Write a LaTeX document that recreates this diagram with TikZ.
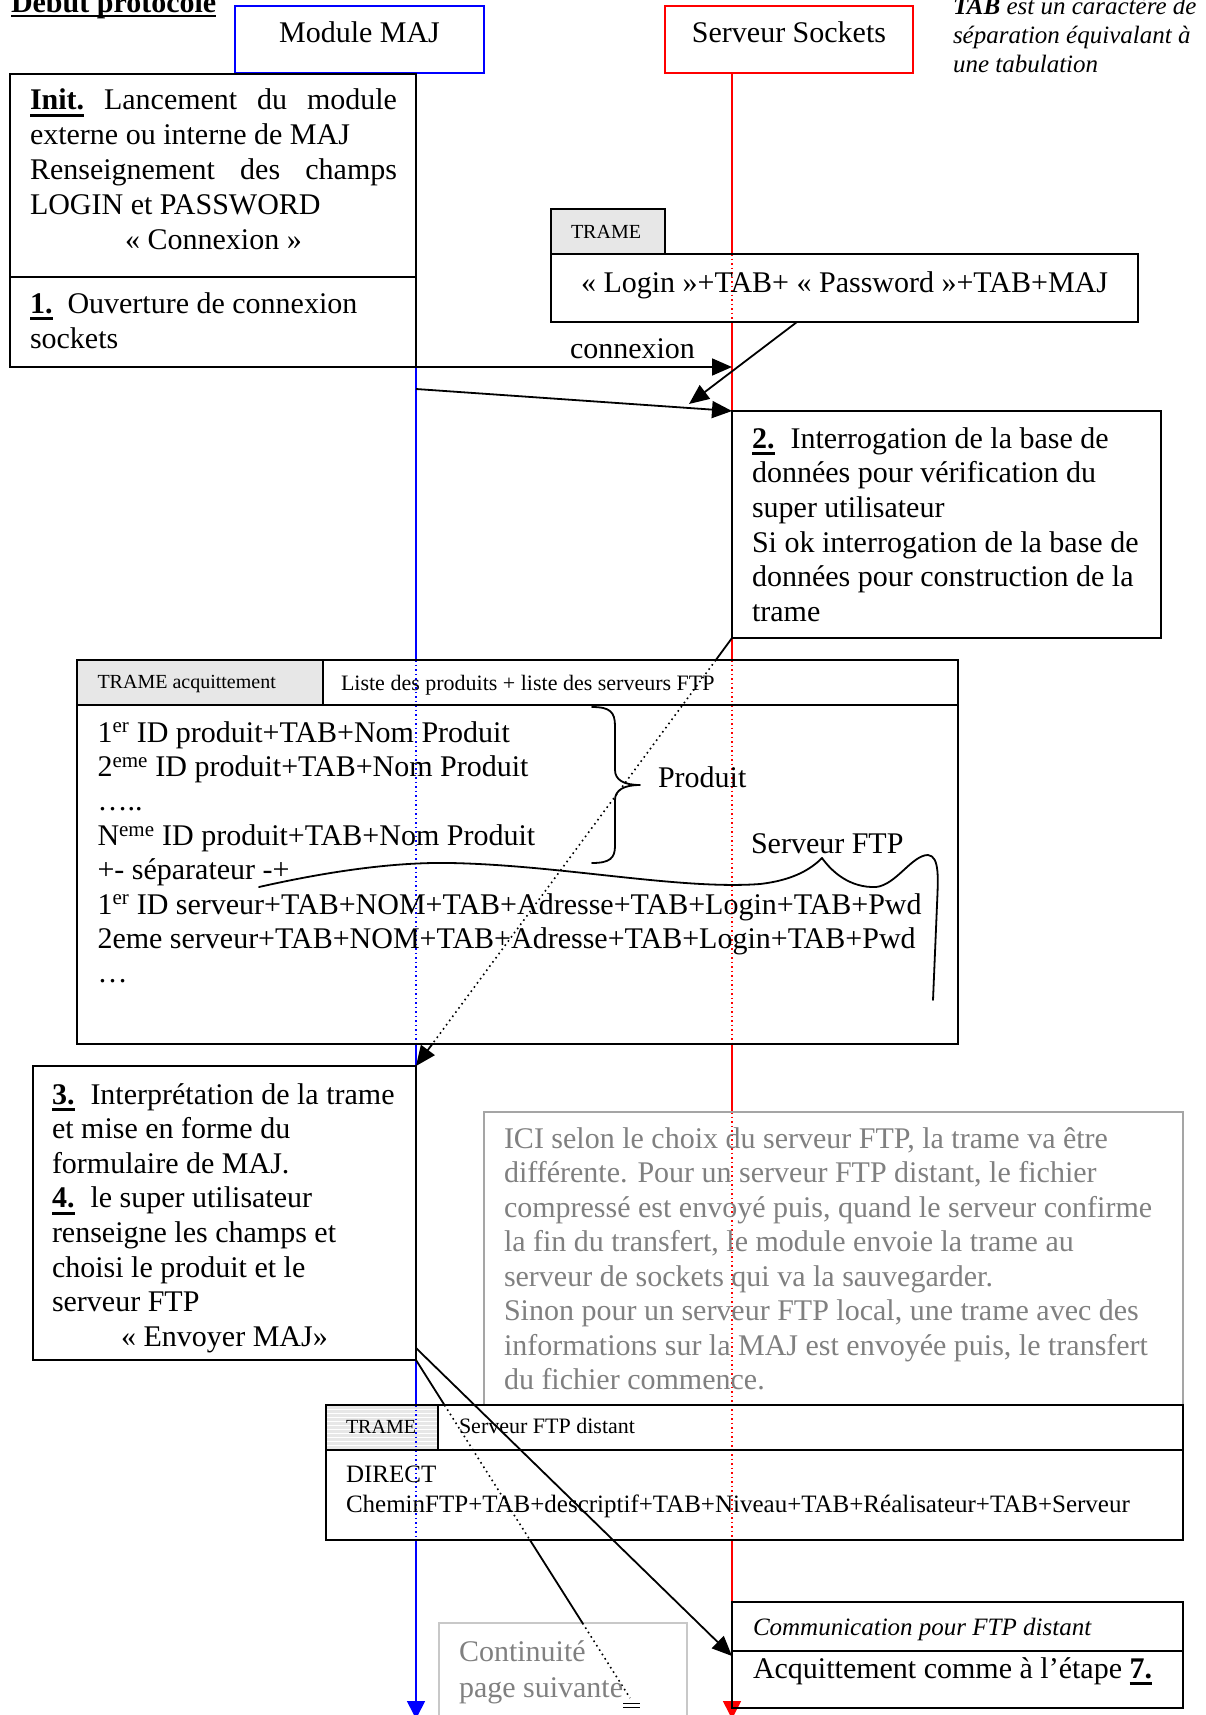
\documentclass[tikz,border=0pt]{standalone}
\usepackage{fontspec}
\setmainfont{Liberation Serif}
\usetikzlibrary{arrows.meta,calc}
\pgfdeclarelayer{bg}
\pgfsetlayers{bg,main}

\definecolor{txtgrey}{RGB}{128,128,128}
\definecolor{boxgrey}{RGB}{165,165,165}
\definecolor{contgrey}{RGB}{200,200,200}
\definecolor{cellgrey}{RGB}{231,231,231}

% underlined text with a rule at a given depth and thickness
\newcommand\ulrule[3]{\setbox0\hbox{#1}\rlap{\rule[#2]{\wd0}{#3}}\box0}
\newcommand\ulbold[1]{\ulrule{\textbf{#1}}{-7pt}{2.8pt}}
% stacked lines of text, baseline of the whole block = first line
\newcommand\textlines[2]{\vtop{\hsize=#1\relax#2}}
\newcommand\jline[1]{\hbox to\hsize{#1}}
\newcommand\pline[1]{\hbox{#1}}
\newcommand\centline[1]{\hbox to\hsize{\hfil#1\hfil}}

\tikzset{
  rect/.style={rectangle, inner sep=0pt, outer sep=0pt, anchor=north west, line width=2pt},
  txt/.style={inner sep=0pt, outer sep=0pt, anchor=base west, font=\fontsize{30}{34.6}\selectfont},
  smalltxt/.style={txt, font=\fontsize{20}{24}\selectfont},
  midtxt/.style={txt, font=\fontsize{22}{26}\selectfont},
  notetxt/.style={txt, font=\fontsize{25}{30}\selectfont},
  msg/.style={line width=1.8pt, -{Triangle[length=20pt,width=17pt]}},
  conn/.style={line width=1.8pt},
  dotconn/.style={line width=1.6pt, dash pattern=on 1.6pt off 3.6pt},
  lifeblue/.style={draw=blue, line width=1.5pt},
  lifered/.style={draw=red, line width=1.5pt},
  lifedots/.style={dash pattern=on 1.5pt off 3pt},
  lifeend/.style={-{Triangle[length=18pt,width=18pt]}},
  bracepath/.style={line width=1.8pt, line cap=round, line join=round},
}

\begin{document}
\begin{tikzpicture}[x=1pt,y=-1pt]
\useasboundingbox (0,0) rectangle (1205,1715);
\clip (0,0) rectangle (1205,1715);

% ---------- lifeline axes ----------
\coordinate (bl) at (416,0);
\coordinate (rl) at (732,0);
\coordinate (blend) at (416,1719);
\coordinate (rlend) at (732,1719);

% ---------- boxes ----------
\node[rect, draw=blue, line width=1.8pt, minimum width=249pt, minimum height=67pt] (modmaj) at (235,6) {};
\node[rect, draw=red, line width=1.8pt, minimum width=248pt, minimum height=67pt] (srvsock) at (665,6) {};
\node[rect, draw, minimum width=406pt, minimum height=203pt] (init) at (10,74) {};
\node[rect, draw, minimum width=406pt, minimum height=90pt] (step1) at (10,277) {};
\node[rect, draw, minimum width=114pt, minimum height=45pt] (trametab) at (551,209) {};
\node[rect, draw, minimum width=587pt, minimum height=68pt] (login) at (551,254) {};
\node[rect, draw, minimum width=429pt, minimum height=227pt] (step2) at (732,411) {};
\node[rect, draw, minimum width=246pt, minimum height=45pt] (acqhead1) at (77,660) {};
\node[rect, draw, minimum width=635pt, minimum height=45pt] (acqhead2) at (323,660) {};
\node[rect, draw, minimum width=881pt, minimum height=339pt] (acqbody) at (77,705) {};
\node[rect, draw, minimum width=383pt, minimum height=294pt] (step34) at (33,1066) {};
\node[rect, draw=boxgrey, minimum width=699pt, minimum height=293pt] (ici) at (484,1112) {};
\node[rect, draw, minimum width=112pt, minimum height=45pt] (disthead1) at (326,1405) {};
\node[rect, draw, minimum width=745pt, minimum height=45pt] (disthead2) at (438,1405) {};
\node[rect, draw, minimum width=857pt, minimum height=90pt] (distbody) at (326,1450) {};
\node[rect, draw=contgrey, minimum width=248pt, minimum height=102pt] (cont) at (439,1623) {};
\node[rect, draw, minimum width=451pt, minimum height=49pt] (comm) at (732,1602) {};
\node[rect, draw, minimum width=451pt, minimum height=57pt] (ack) at (732,1651) {};

% ---------- cell shading and lifelines, behind the boxes ----------
\begin{pgfonlayer}{bg}
  \clip (0,0) rectangle (1205,1715);
  \fill[cellgrey] (trametab.north west) rectangle (trametab.south east);
  \fill[cellgrey] (acqhead1.north west) rectangle (acqhead1.south east);
  \fill[cellgrey] (disthead1.north west) rectangle (disthead1.south east);
  \foreach \k in {1,...,10}
    \draw[white, line width=0.9pt] ($(disthead1.north west)+(0,4*\k)$) -- ($(disthead1.north east)+(0,4*\k)$);

  % Module MAJ lifeline
  \draw[lifeblue] (bl |- modmaj.south) -- (bl |- acqhead1.north);
  \draw[lifeblue, lifedots] (bl |- acqhead1.north) -- (bl |- acqbody.south);
  \draw[lifeblue] (bl |- acqbody.south) -- (bl |- disthead1.north);
  \draw[lifeblue, lifedots] (bl |- disthead1.north) -- (bl |- distbody.south);
  \draw[lifeblue, lifeend, fill=blue] (bl |- distbody.south) -- (blend);

  % Serveur Sockets lifeline
  \draw[lifered] (rl |- srvsock.south) -- (rl |- login.north);
  \draw[lifered, lifedots] (rl |- login.north) -- (rl |- login.south);
  \draw[lifered] (rl |- login.south) -- (rl |- acqhead2.north);
  \draw[lifered, lifedots] (rl |- acqhead2.north) -- (rl |- acqbody.south);
  \draw[lifered] (rl |- acqbody.south) -- (rl |- ici.north);
  \draw[lifered, lifedots] (rl |- ici.north) -- (rl |- distbody.south);
  \draw[lifered, lifeend, fill=red] (rl |- distbody.south) -- (rlend);
\end{pgfonlayer}

% ---------- messages ----------
\draw[msg] (step1.south east) -- (step1.south east -| rl);
\coordinate (m2start) at (416,389);
\draw[msg] (m2start) -- (step2.north west);
\coordinate (loginTip) at (689,404);
\draw[msg] ($(login.south west)!0.419!(login.south east)$) -- (loginTip);

% step 2 -> step 3 (dotted while crossing the acknowledgement frame)
\coordinate (p1) at (intersection of step2.south west--step34.north east and acqhead1.north west--acqhead2.north east);
\coordinate (p2) at (intersection of step2.south west--step34.north east and acqbody.south west--acqbody.south east);
\draw[conn] (step2.south west) -- (p1);
\draw[dotconn] (p1) -- (p2);
\draw[msg] (p2) -- (step34.north east);

% step 4 -> acknowledgement for distant FTP
\draw[msg] ($(step34.south east)+(0,-12)$) -- ($(ack.north west)+(0,5)$);

% step 4 -> next page
\coordinate (contEnd) at (630,1698);
\coordinate (q1) at (intersection of step34.south east--contEnd and disthead1.north west--disthead2.north east);
\coordinate (q2) at (intersection of step34.south east--contEnd and distbody.south west--distbody.south east);
\coordinate (q3) at (intersection of step34.south east--contEnd and cont.north west--cont.north east);
\draw[conn] (step34.south east) -- (q1);
\draw[dotconn] (q1) -- (q2);
\draw[conn] (q2) -- (q3);
\draw[dotconn] (q3) -- (contEnd);
\draw[line width=1pt] ($(contEnd)+(-7,5)$) -- ($(contEnd)+(10,5)$);
\draw[line width=1pt] ($(contEnd)+(-7,9)$) -- ($(contEnd)+(10,9)$);

% ---------- braces ----------
\draw[bracepath] (592,707) .. controls (610,707) and (615,712) .. (615,726)
  -- (615,770) .. controls (615,780) and (624,785) .. (640,785)
  .. controls (624,785) and (615,790) .. (615,800)
  -- (615,846) .. controls (615,858) and (610,863) .. (592,863);
\draw[bracepath] (259,887) .. controls (330,871) and (395,862) .. (450,863)
  .. controls (560,865) and (680,890) .. (760,884)
  .. controls (795,880) and (812,868) .. (822,858)
  .. controls (832,872) and (850,888) .. (876,887)
  .. controls (896,885) and (912,855) .. (928,855)
  .. controls (940,856) and (938,880) .. (937,905)
  -- (933,1000);

% ---------- texts ----------
\node[txt] (title) at (11,12.7) {\ulrule{\textbf{Début protocole}}{-4.6pt}{2.4pt}};
\node[txt, anchor=base] (modmajT) at (359.5,43) {Module MAJ};
\node[txt, anchor=base] (srvsockT) at (789,43) {Serveur Sockets};
\node[notetxt, font=\fontsize{25}{28.8}\selectfont\itshape] (noteT) at (953,14.5)
  {\textlines{250pt}{\pline{\textbf{TAB} est un caractère de}\pline{séparation équivalant à}\pline{une tabulation}}};

\node[txt, font=\fontsize{30}{35}\selectfont] (initT) at (30,110) {\textlines{367pt}{%
  \jline{\ulbold{Init.}\hfill Lancement\hfill du\hfill module}%
  \pline{externe ou interne de MAJ}%
  \jline{Renseignement\hfill des\hfill champs}%
  \pline{LOGIN et PASSWORD}%
  \centline{« Connexion »}}};
\node[txt, font=\fontsize{30}{35}\selectfont] (step1T) at (30,313) {\textlines{367pt}{%
  \pline{\ulbold{1.}\hspace{15pt}Ouverture de connexion}%
  \pline{sockets}}};

\node[smalltxt] (trameT) at (571,238) {TRAME};
\node[txt] (loginT) at (581,292) {« Login »+TAB+ « Password »+TAB+MAJ};
\node[txt] (connT) at (570,358) {connexion};

\node[txt, font=\fontsize{30}{34.7}\selectfont] (step2T) at (752,448) {\textlines{400pt}{%
  \pline{\ulbold{2.}\hspace{16pt}Interrogation de la base de}%
  \pline{données pour vérification du}%
  \pline{super utilisateur}%
  \pline{Si ok interrogation de la base de}%
  \pline{données pour construction de la}%
  \pline{trame}}};

\node[smalltxt] (acqhead1T) at (97.5,688) {TRAME acquittement};
\node[midtxt] (acqhead2T) at (341,690) {Liste des produits + liste des serveurs FTP};
\node[txt, font=\fontsize{30}{34.4}\selectfont] (acqbodyT) at (97.5,742) {\textlines{850pt}{%
  \pline{1\textsuperscript{er} ID produit+TAB+Nom Produit}%
  \pline{2\textsuperscript{eme} ID produit+TAB+Nom Produit}%
  \pline{…..}%
  \pline{N\textsuperscript{eme} ID produit+TAB+Nom Produit}%
  \pline{+- séparateur -+}%
  \pline{1\textsuperscript{er} ID serveur+TAB+NOM+TAB+Adresse+TAB+Login+TAB+Pwd}%
  \pline{2eme serveur+TAB+NOM+TAB+Adresse+TAB+Login+TAB+Pwd}%
  \pline{…}}};
\node[txt] (produitT) at (658,787) {Produit};
\node[txt] (ftpT) at (751,853) {Serveur FTP};

\node[txt, font=\fontsize{30}{34.6}\selectfont] (step34T) at (52,1104) {\textlines{345pt}{%
  \pline{\ulbold{3.}\hspace{16pt}Interprétation de la trame}%
  \pline{et mise en forme du}%
  \pline{formulaire de MAJ.}%
  \pline{\ulbold{4.}\hspace{16pt}le super utilisateur}%
  \pline{renseigne les champs et}%
  \pline{choisi le produit et le}%
  \pline{serveur FTP}%
  \centline{« Envoyer MAJ»}}};

\node[txt, text=txtgrey, font=\fontsize{30}{34.5}\selectfont] (iciT) at (504,1148) {\textlines{670pt}{%
  \pline{ICI selon le choix du serveur FTP, la trame va être}%
  \pline{différente. Pour un serveur FTP distant, le fichier}%
  \pline{compressé est envoyé puis, quand le serveur confirme}%
  \pline{la fin du transfert, le module envoie la trame au}%
  \pline{serveur de sockets qui va la sauvegarder.}%
  \pline{Sinon pour un serveur FTP local, une trame avec des}%
  \pline{informations sur la MAJ est envoyée puis, le transfert}%
  \pline{du fichier commence.}}};

\node[smalltxt] (disthead1T) at (346,1433) {TRAME};
\node[midtxt] (disthead2T) at (459,1433) {Serveur FTP distant};
\node[notetxt] (distbodyT) at (346,1482) {\textlines{840pt}{%
  \pline{DIRECT}%
  \pline{CheminFTP+TAB+descriptif+TAB+Niveau+TAB+Réalisateur+TAB+Serveur}}};

\node[txt, text=txtgrey, font=\fontsize{30}{36.5}\selectfont] (contT) at (459,1661) {\textlines{220pt}{%
  \pline{Continuité}%
  \pline{page suivante}}};

\node[notetxt, font=\fontsize{25}{30}\selectfont\itshape] (commT) at (753,1635) {Communication pour FTP distant};
\node[txt] (ackT) at (753,1678) {Acquittement comme à l’étape \ulbold{7.}};
\end{tikzpicture}
\end{document}
